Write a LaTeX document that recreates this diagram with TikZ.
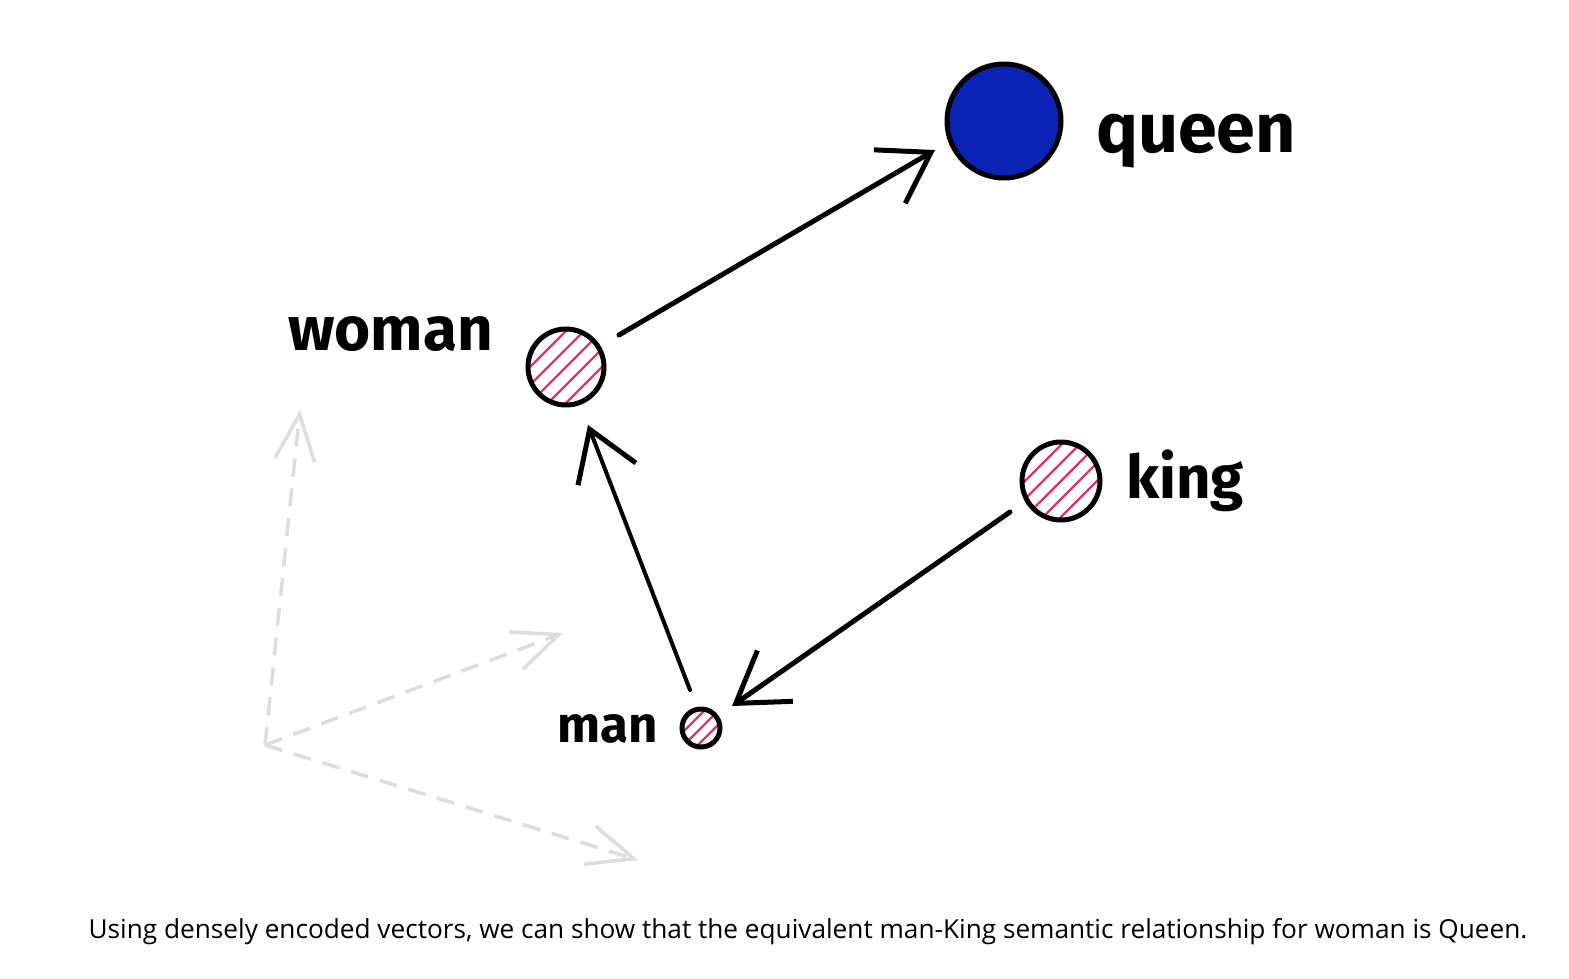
\documentclass[tikz,border=0pt]{standalone}
\usepackage{fontspec}
\setmainfont{Open Sans}
\newfontfamily\handfont{Fira Sans}
\usetikzlibrary{arrows.meta,calc}
\definecolor{qblue}{HTML}{0A22B5}
\definecolor{hatch}{HTML}{E0336A}
\definecolor{ghost}{HTML}{DDDDDD}
\tikzset{
  dot/.style={circle, draw=black, line width=5pt, inner sep=0pt},
  lbl/.style={text=black, inner sep=0pt},
  vec/.style={draw=black, line width=5pt, line cap=round,
    -{Straight Barb[length=48pt,width=62pt,line width=5pt]}},
  ghostvec/.style={draw=ghost, line width=3.5pt, dash pattern=on 18pt off 12pt,
    -{Straight Barb[length=46pt,width=40pt,line width=3.5pt]}},
}
\newcommand{\hatchcircle}[4]{%
  \begin{scope}
    \clip (#1,#2) circle (#3);
    \foreach \k in {-4,...,4} {
      \draw[hatch, line width=2.4pt] ($(#1,#2)+(\k*#4-60,60)$) -- ++(120,-120);
    }
  \end{scope}}
\begin{document}
\begin{tikzpicture}[x=1pt,y=-1pt]
\useasboundingbox (0,0) rectangle (1569,978);
\fill[white] (0,0) rectangle (1569,978);

% ghost axes
\coordinate (o) at (265,745);
\coordinate (gy) at (300,410);
\coordinate (gd) at (563,633);
\coordinate (gx) at (638,860);
\draw[ghostvec] (o) -- (gy);
\draw[ghostvec] (o) -- (gd);
\draw[ghostvec] (o) -- (gx);

% hatching
\hatchcircle{566}{367}{36pt}{18}
\hatchcircle{1061}{481}{37pt}{18}
\hatchcircle{701}{728}{17pt}{14}

% circles
\node[dot, fill=qblue, minimum size=114pt] (queen) at (1004,121) {};
\node[dot, minimum size=76pt] (woman) at (566,367) {};
\node[dot, minimum size=78pt] (king) at (1061,481) {};
\node[dot, minimum size=38pt] (man) at (701,728) {};

% labels
\node[lbl, font=\handfont\bfseries\fontsize{70}{70}\selectfont, anchor=base west] (tqueen) at (1096,152) {queen};
\node[lbl, font=\handfont\bfseries\fontsize{62}{62}\selectfont, anchor=base west] (twoman) at (288,350) {woman};
\node[lbl, font=\handfont\bfseries\fontsize{60}{60}\selectfont, anchor=base west] (tking) at (1126,498) {king};
\node[lbl, font=\handfont\bfseries\fontsize{51}{51}\selectfont, anchor=base west] (tman) at (557,742) {man};

% arrows
\draw[vec] (woman) ++(53,-32) -- (935,150);
\draw[vec, line width=4pt] (man) ++(-11,-38) -- (588,425);
\draw[vec] (king) ++(-51,31) -- (732,706);

% caption
\node[font=\fontsize{26.2}{30}\selectfont, anchor=base] (cap) at (808,938)
  {Using densely encoded vectors, we can show that the equivalent man-King semantic relationship for woman is Queen.};
\end{tikzpicture}
\end{document}
